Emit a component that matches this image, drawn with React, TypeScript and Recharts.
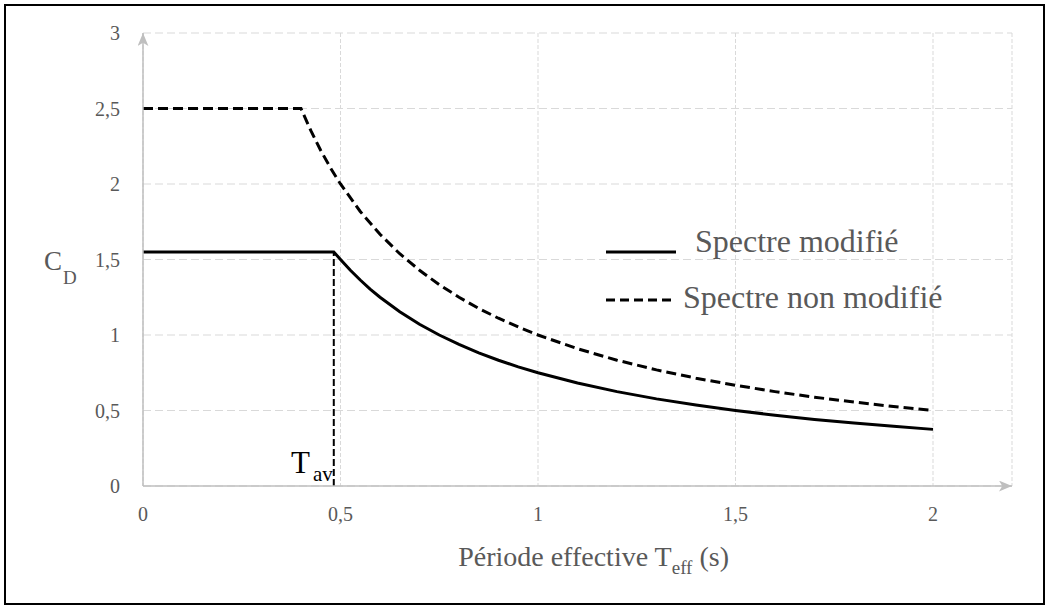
import { LineChart, Line, XAxis, YAxis, CartesianGrid, Legend, ReferenceLine } from "recharts";

// période effective T (s) / coefficient C_D
const spectreNonModifie = [
  { t: 0, cd: 2.5 },
  { t: 0.4, cd: 2.5 },
  { t: 0.425, cd: 2.353 },
  { t: 0.45, cd: 2.222 },
  { t: 0.475, cd: 2.105 },
  { t: 0.5, cd: 2.0 },
  { t: 0.55, cd: 1.818 },
  { t: 0.6, cd: 1.667 },
  { t: 0.65, cd: 1.538 },
  { t: 0.7, cd: 1.429 },
  { t: 0.75, cd: 1.333 },
  { t: 0.8, cd: 1.25 },
  { t: 0.85, cd: 1.176 },
  { t: 0.9, cd: 1.111 },
  { t: 0.95, cd: 1.053 },
  { t: 1.0, cd: 1.0 },
  { t: 1.1, cd: 0.909 },
  { t: 1.2, cd: 0.833 },
  { t: 1.3, cd: 0.769 },
  { t: 1.4, cd: 0.714 },
  { t: 1.5, cd: 0.667 },
  { t: 1.6, cd: 0.625 },
  { t: 1.7, cd: 0.588 },
  { t: 1.8, cd: 0.556 },
  { t: 1.9, cd: 0.526 },
  { t: 2.0, cd: 0.5 },
];

const spectreModifie = [
  { t: 0, cd: 1.55 },
  { t: 0.483, cd: 1.55 },
  { t: 0.5, cd: 1.5 },
  { t: 0.525, cd: 1.429 },
  { t: 0.55, cd: 1.364 },
  { t: 0.575, cd: 1.304 },
  { t: 0.6, cd: 1.25 },
  { t: 0.65, cd: 1.154 },
  { t: 0.7, cd: 1.071 },
  { t: 0.75, cd: 1.0 },
  { t: 0.8, cd: 0.938 },
  { t: 0.85, cd: 0.882 },
  { t: 0.9, cd: 0.833 },
  { t: 0.95, cd: 0.789 },
  { t: 1.0, cd: 0.75 },
  { t: 1.1, cd: 0.682 },
  { t: 1.2, cd: 0.625 },
  { t: 1.3, cd: 0.577 },
  { t: 1.4, cd: 0.536 },
  { t: 1.5, cd: 0.5 },
  { t: 1.6, cd: 0.469 },
  { t: 1.7, cd: 0.441 },
  { t: 1.8, cd: 0.417 },
  { t: 1.9, cd: 0.395 },
  { t: 2.0, cd: 0.375 },
];

const tAv = 0.483;
const cdPlateau = 1.55;

const xTicks = [0, 0.5, 1, 1.5, 2];
const yTicks = [0, 0.5, 1, 1.5, 2, 2.5, 3];

const fmt = (v: number) => String(v).replace(".", ",");

const FONT = "Liberation Serif, DejaVu Serif, serif";
const GREY = "#595959";

const renderLegend = () => (
  <svg width={360} height={110} style={{ overflow: "visible" }}>
    <line x1={6} y1={37} x2={76} y2={37} stroke="#000" strokeWidth={3} />
    <text x={95} y={37} style={{ fontFamily: FONT, fontSize: 32 }} fill={GREY}>Spectre modifié</text>
    <line x1={6} y1={85} x2={76} y2={85} stroke="#000" strokeWidth={3} strokeDasharray="9 5" />
    <text x={83} y={93} style={{ fontFamily: FONT, fontSize: 32 }} fill={GREY}>Spectre non modifié</text>
  </svg>
);

export default function App() {
  return (
    <div style={{ position: "absolute", left: 0, top: 0, width: 1045, height: 606, background: "#fff", fontFamily: FONT }}>
      <div style={{ position: "absolute", left: 4, top: 4, width: 1041, height: 601, border: "2px solid #000", boxSizing: "border-box" }} />
      <div style={{ position: "absolute", left: 0, top: 0 }}>
        <LineChart width={1045} height={606} margin={{ top: 33, right: 33, bottom: 90, left: 83 }} style={{ fontFamily: FONT }}>
          <defs>
            <marker id="axArrow" viewBox="0 0 12 10" refX="12" refY="5" markerWidth="13" markerHeight="11" markerUnits="userSpaceOnUse" orient="auto-start-reverse">
              <path d="M0,0 L12,5 L0,10 L3,5 z" fill="#bfbfbf" />
            </marker>
          </defs>
          <CartesianGrid horizontal={true} vertical={false} stroke="#d9d9d9" strokeDasharray="8 4" />
          <CartesianGrid horizontal={false} vertical={true} stroke="#d9d9d9" strokeDasharray="4 2" />
          <XAxis
            dataKey="t"
            type="number"
            domain={[0, 2.2]}
            ticks={xTicks}
            tickFormatter={fmt}
            height={30}
            tickLine={false}
            tickSize={0}
            tickMargin={21}
            axisLine={{ stroke: "#bfbfbf", strokeWidth: 1.5, markerEnd: "url(#axArrow)" }}
            tick={{ fill: GREY, fontSize: 20, style: { fontFamily: FONT } }}
            allowDuplicatedCategory={false}
          />
          <YAxis
            type="number"
            domain={[0, 3]}
            ticks={yTicks}
            tickFormatter={fmt}
            width={60}
            tickLine={false}
            tickSize={0}
            tickMargin={23}
            axisLine={{ stroke: "#bfbfbf", strokeWidth: 1.5, markerStart: "url(#axArrow)" }}
            tick={{ fill: GREY, fontSize: 20, style: { fontFamily: FONT } }}
          />
          <ReferenceLine
            segment={[{ x: tAv, y: 0 }, { x: tAv, y: cdPlateau }]}
            stroke="#000"
            strokeWidth={2}
            strokeDasharray="7 3"
          />
          <Line data={spectreNonModifie} dataKey="cd" type="linear" stroke="#000" strokeWidth={3} strokeDasharray="10 5" dot={false} isAnimationActive={false} name="Spectre non modifié" />
          <Line data={spectreModifie} dataKey="cd" type="linear" stroke="#000" strokeWidth={3} dot={false} isAnimationActive={false} name="Spectre modifié" />
          <Legend
            layout="horizontal"
            verticalAlign="middle"
            align="center"
            content={renderLegend}
            wrapperStyle={{ position: "absolute", left: 600, top: 215, width: 360, height: 110 }}
          />
        </LineChart>
      </div>
      <svg width={1045} height={606} style={{ position: "absolute", left: 0, top: 0, pointerEvents: "none", fontFamily: FONT }}>
        <text x={44} y={270} fontSize={27} fill={GREY}>C</text>
        <text x={63} y={284} fontSize={19} fill={GREY}>D</text>
        <text x={291} y={473} fontSize={31} fill="#000">T</text>
        <text x={313} y={481} fontSize={21} fill="#000">av</text>
        <text x={729} y={566} textAnchor="end" fontSize={28} fill={GREY}>
          Période effective T
          <tspan fontSize={19} dy={8}>eff</tspan>
          <tspan dy={-8}> (s)</tspan>
        </text>
      </svg>
    </div>
  );
}
